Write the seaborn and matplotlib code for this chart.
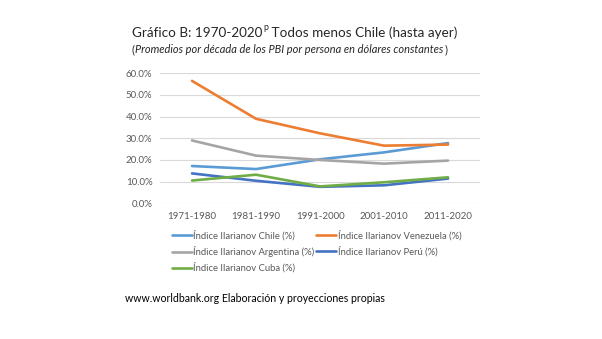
import matplotlib
matplotlib.use("Agg")
import matplotlib.pyplot as plt
import seaborn as sns
import pandas as pd

decades = ["1971-1980", "1981-1990", "1991-2000", "2001-2010", "2011-2020"]
chile = [17.2, 15.8, 20.3, 23.5, 27.8]
venezuela = [56.5, 39.0, 32.3, 26.6, 27.1]
argentina = [29.0, 22.0, 20.0, 18.3, 19.7]
peru = [13.8, 10.4, 7.6, 8.3, 11.4]
cuba = [10.5, 13.2, 7.8, 9.7, 12.0]

names = ["Índice Ilarianov Chile (%)", "Índice Ilarianov Venezuela (%)",
         "Índice Ilarianov Argentina (%)", "Índice Ilarianov Perú (%)",
         "Índice Ilarianov Cuba (%)"]
series = [chile, venezuela, argentina, peru, cuba]
colors = ["#5B9BD5", "#ED7D31", "#A5A5A5", "#4472C4", "#70AD47"]

rows = []
for n, vals in zip(names, series):
    for d, v in zip(decades, vals):
        rows.append({"Década": d, "Serie": n, "Valor": v / 100})
df = pd.DataFrame(rows)

sns.set_theme(style="white")
plt.rcParams["font.family"] = ["Lato", "DejaVu Sans"]

fig = plt.figure(figsize=(6.02, 3.39), dpi=100)
fig.patch.set_facecolor("white")
ax = fig.add_axes([0.2658, 0.4003, 0.5316, 0.3835])

sns.lineplot(data=df, x="Década", y="Valor", hue="Serie", hue_order=names,
             palette=colors, linewidth=1.9, ax=ax, sort=False)

ax.set_xlim(-0.5, 4.5)
ax.set_ylim(0, 0.6)
ax.set_yticks([0, 0.1, 0.2, 0.3, 0.4, 0.5, 0.6])
ax.set_yticklabels([f"{v:.1f}%" for v in [0, 10, 20, 30, 40, 50, 60]])
ax.yaxis.grid(True, color="#D9D9D9", linewidth=0.8)
ax.xaxis.grid(False)
ax.set_axisbelow(True)
for s in ax.spines.values():
    s.set_visible(False)
ax.tick_params(axis="both", length=0, labelsize=7, labelcolor="#595959")
ax.tick_params(axis="y", pad=5.5)
ax.tick_params(axis="x", pad=6)
ax.set_xlabel("")
ax.set_ylabel("")

handles, labels = ax.get_legend_handles_labels()
ax.get_legend().remove()
order = [0, 2, 4, 1, 3]
leg = fig.legend([handles[i] for i in order], [labels[i] for i in order],
                 ncol=2, loc="upper left", bbox_to_anchor=(0.2857, 0.321),
                 frameon=False, fontsize=6.8, handlelength=2.1, handletextpad=0.15,
                 columnspacing=0.2, labelspacing=0.58, borderaxespad=0, borderpad=0)
for t in leg.get_texts():
    t.set_color("#595959")

fig.canvas.draw()
renderer = fig.canvas.get_renderer()
W = fig.bbox.width

def after(t, gap=0.0):
    bb = t.get_window_extent(renderer)
    return bb.x1 / W + gap

tc = "#262626"
t1 = fig.text(0.219, 0.903, "Gráfico B: 1970-2020", fontsize=9.7, color=tc,
              va="center", ha="left")
t2 = fig.text(after(t1, 0.0015), 0.918, "p", fontsize=6.3, color=tc,
              va="center", ha="left")
t3 = fig.text(after(t2), 0.903, " Todos menos Chile (hasta ayer)", fontsize=9.7,
              color=tc, va="center", ha="left")

s1 = fig.text(0.219, 0.854, "(", fontsize=7.9, color=tc, va="center", ha="left")
s2 = fig.text(after(s1, 0.001), 0.854,
              "Promedios por década de los PBI por persona en dólares constantes",
              fontsize=7.9, style="italic", color=tc, va="center", ha="left")
s3 = fig.text(after(s2, 0.001), 0.854, ")", fontsize=7.9, color=tc,
              va="center", ha="left")

fig.text(0.208, 0.118, "www.worldbank.org Elaboración y proyecciones propias",
         fontsize=7.6, color="black", va="center", ha="left")

fig.savefig("out.png", dpi=100, facecolor="white")
